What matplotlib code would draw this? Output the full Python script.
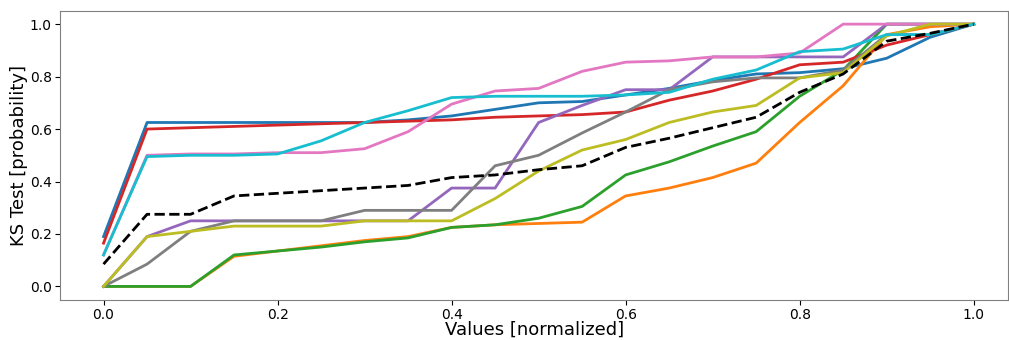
import matplotlib
matplotlib.use("Agg")
import matplotlib.pyplot as plt

x = [0.0, 0.05, 0.1, 0.15, 0.2, 0.25, 0.3, 0.35, 0.4, 0.45, 0.5,
     0.55, 0.6, 0.65, 0.7, 0.75, 0.8, 0.85, 0.9, 0.95, 1.0]

blue = [0.19, 0.625, 0.625, 0.625, 0.625, 0.625, 0.625, 0.635, 0.65, 0.675, 0.70,
        0.705, 0.73, 0.755, 0.785, 0.81, 0.815, 0.83, 0.87, 0.95, 1.0]
orange = [0.0, 0.0, 0.0, 0.115, 0.135, 0.155, 0.175, 0.19, 0.225, 0.235, 0.24,
          0.245, 0.345, 0.375, 0.415, 0.47, 0.625, 0.765, 0.96, 0.99, 1.0]
green = [0.0, 0.0, 0.0, 0.12, 0.135, 0.15, 0.17, 0.185, 0.225, 0.235, 0.26,
         0.305, 0.425, 0.475, 0.535, 0.59, 0.725, 0.825, 1.0, 1.0, 1.0]
red = [0.165, 0.60, 0.605, 0.61, 0.615, 0.62, 0.625, 0.63, 0.635, 0.645, 0.65,
       0.655, 0.665, 0.71, 0.745, 0.79, 0.845, 0.855, 0.92, 0.96, 1.0]
purple = [0.0, 0.19, 0.25, 0.25, 0.25, 0.25, 0.25, 0.25, 0.375, 0.375, 0.625,
          0.69, 0.75, 0.75, 0.875, 0.875, 0.875, 0.875, 1.0, 1.0, 1.0]
pink = [0.12, 0.50, 0.505, 0.505, 0.51, 0.51, 0.525, 0.59, 0.695, 0.745, 0.755,
        0.82, 0.855, 0.86, 0.875, 0.875, 0.89, 1.0, 1.0, 1.0, 1.0]
gray = [0.0, 0.085, 0.21, 0.25, 0.25, 0.25, 0.29, 0.29, 0.29, 0.46, 0.50,
        0.585, 0.665, 0.75, 0.78, 0.795, 0.795, 0.825, 0.96, 0.96, 1.0]
olive = [0.0, 0.19, 0.21, 0.23, 0.23, 0.23, 0.25, 0.25, 0.25, 0.335, 0.44,
         0.52, 0.56, 0.625, 0.665, 0.69, 0.795, 0.815, 0.955, 1.0, 1.0]
cyan = [0.12, 0.495, 0.50, 0.50, 0.505, 0.555, 0.625, 0.67, 0.72, 0.725, 0.725,
        0.725, 0.73, 0.74, 0.79, 0.825, 0.895, 0.905, 0.96, 0.96, 1.0]
mean = [0.085, 0.275, 0.275, 0.345, 0.355, 0.365, 0.375, 0.385, 0.415, 0.425, 0.445,
        0.46, 0.53, 0.565, 0.605, 0.645, 0.74, 0.81, 0.935, 0.965, 1.0]

series = [
    (blue, "#1f77b4"), (orange, "#ff7f0e"), (green, "#2ca02c"), (red, "#d62728"),
    (purple, "#9467bd"), (pink, "#e377c2"), (gray, "#7f7f7f"), (olive, "#bcbd22"),
    (cyan, "#17becf"),
]

fig = plt.figure(figsize=(10.09, 3.4), dpi=100)
ax = fig.add_axes([0.0595, 0.119, 0.94, 0.8486])
for vals, c in series:
    ax.plot(x, vals, color=c, lw=2)
ax.plot(x, mean, color="black", lw=2, ls="--")

ax.set_xlim(-0.05, 1.04)
ax.set_ylim(-0.05, 1.05)
ax.set_xticks([0.0, 0.2, 0.4, 0.6, 0.8, 1.0])
ax.set_yticks([0.0, 0.2, 0.4, 0.6, 0.8, 1.0])
ax.tick_params(labelsize=10, pad=2.5)
ax.set_xlabel("Values [normalized]", fontsize=13, labelpad=-1)
ax.set_ylabel("KS Test [probability]", fontsize=13, labelpad=1)
for s in ax.spines.values():
    s.set_color("#808080")
fig.savefig("out.png", dpi=100)
